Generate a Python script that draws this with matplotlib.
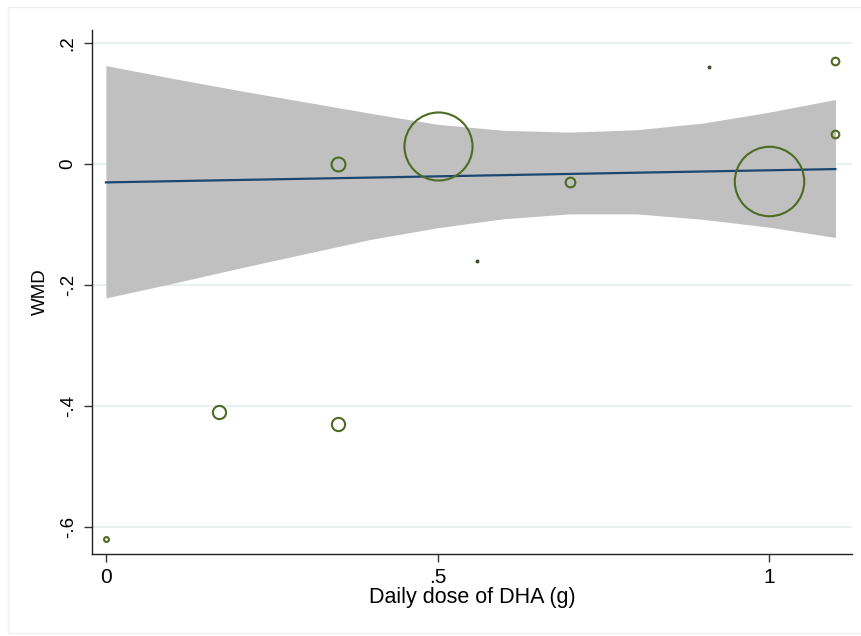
import numpy as np
import matplotlib.pyplot as plt
from matplotlib.patches import Rectangle

# study points: dose of DHA (g/day), WMD, marker size (pt)
dose = [0.0, 0.17, 0.35, 0.35, 0.50, 0.56, 0.70, 0.91, 1.00, 1.10, 1.10]
wmd = [-0.62, -0.41, -0.43, 0.00, 0.03, -0.16, -0.03, 0.16, -0.027, 0.171, 0.05]
msize = [3.5, 9.5, 9.5, 10.0, 49, 1.6, 7.0, 1.6, 50, 5.5, 5.5]

# fitted line and its confidence band
fit_x = [0.0, 1.1]
fit_y = [-0.030, -0.008]
band_x = [0.0, 0.1, 0.2, 0.3, 0.4, 0.5, 0.6, 0.7, 0.8, 0.9, 1.0, 1.1]
band_hi = [0.163, 0.142, 0.122, 0.103, 0.084, 0.066, 0.056, 0.053, 0.057, 0.068, 0.086, 0.107]
band_lo = [-0.221, -0.197, -0.172, -0.148, -0.124, -0.105, -0.090, -0.082, -0.082, -0.091, -0.104, -0.121]

yticks = [-0.6, -0.4, -0.2, 0.0, 0.2]
ylabels = ['-.6', '-.4', '-.2', '0', '.2']
xticks = [0, 0.5, 1]
xlabels = ['0', '.5', '1']

plt.rcParams['font.family'] = ['Liberation Sans', 'DejaVu Sans']

fig = plt.figure(figsize=(8.62, 6.36), dpi=100)
ax = fig.add_axes([0.1067, 0.129, 0.8817, 0.824])

ax.fill_between(band_x, band_lo, band_hi, color='#c0c0c0', linewidth=0, zorder=1)
ax.plot(fit_x, fit_y, color='#1a476f', linewidth=1.6, zorder=2)
for x, y, s in zip(dose, wmd, msize):
    ax.plot(x, y, marker='o', markersize=s, markerfacecolor='none',
            markeredgecolor='#4d6b22' if s > 3 else '#3a4a2a',
            markeredgewidth=1.5 if s > 3 else 1.2,
            linestyle='none', zorder=3)

ax.set_xlim(-0.021, 1.125)
ax.set_ylim(-0.644, 0.222)
ax.set_yticks(yticks)
ax.set_yticklabels(ylabels, rotation=90, va='center')
ax.set_xticks(xticks)
ax.set_xticklabels(xlabels)
ax.tick_params(length=6, width=1, color='#333333')
ax.tick_params(axis='x', labelsize=15, pad=4)
ax.tick_params(axis='y', labelsize=13.5, pad=5)
ax.grid(axis='y', color='#e6edef', linewidth=1.2, zorder=0)
ax.set_axisbelow(True)

for side in ['top', 'right']:
    ax.spines[side].set_visible(False)
for side in ['left', 'bottom']:
    ax.spines[side].set_color('#222222')
    ax.spines[side].set_linewidth(1.0)

ax.set_xlabel('Daily dose of DHA (g)', fontsize=15.5, labelpad=0)
ax.set_ylabel('WMD', fontsize=13.5, labelpad=8)

# faint outer graph border
fig.add_artist(Rectangle((8 / 862, 3 / 636), 870 / 862, 626 / 636, transform=fig.transFigure,
                         fill=False, edgecolor='#f0f0f0', linewidth=1))

fig.savefig('out.png', dpi=100)
